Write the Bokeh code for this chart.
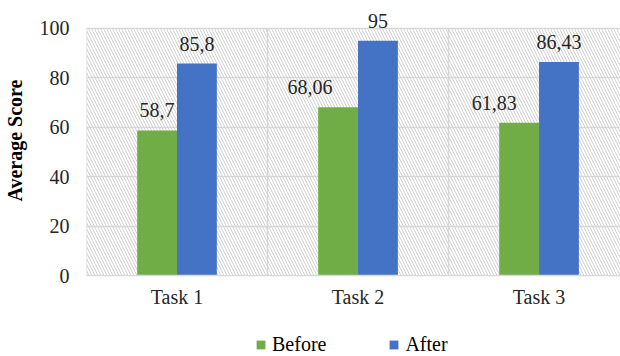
from bokeh.plotting import figure
from bokeh.layouts import column
from bokeh.models import (Range1d, FixedTicker, BoxAnnotation, ColumnDataSource,
                          LabelSet, Legend, LegendItem)
from bokeh.embed import file_html
from bokeh.resources import INLINE

categories = ["Task 1", "Task 2", "Task 3"]
before = [58.7, 68.06, 61.83]
after = [85.8, 95, 86.43]
series_names = ["Before", "After"]
y_ticks = [0, 20, 40, 60, 80, 100]
y_max = 100
dividers = [0, 1, 2]

# style / layout settings
GREEN = "#70AD47"
BLUE = "#4472C4"
GRID = "#d9d9d9"
FONT = "Liberation Serif"
BAR_W = 0.22
before_label_dx = [0, -28, -25]

def fmt(v):
    return f"{v:g}".replace(".", ",")

centers = [i + 0.5 for i in range(len(categories))]

p = figure(width=620, height=310, output_backend="svg", toolbar_location=None,
           x_range=Range1d(0, 2.95), y_range=Range1d(0, 109.3),
           min_border_left=86, min_border_right=0, min_border_top=5,
           min_border_bottom=34)
p.outline_line_color = None
p.background_fill_color = "white"
p.border_fill_color = "white"

# hatched plot background (only up to the 100 line)
hatch = BoxAnnotation(top=y_max, fill_color=None, fill_alpha=0, line_color=None,
                      hatch_pattern="\\", hatch_color="#d2d2d2", hatch_scale=6,
                      hatch_weight=1, level="underlay")
p.add_layout(hatch)

# vertical divider lines between categories
p.segment(x0=dividers, y0=[0] * len(dividers), x1=dividers, y1=[y_max] * len(dividers),
          line_color=GRID, line_width=1.5, level="underlay")

src_b = ColumnDataSource(dict(x=[c - BAR_W / 2 for c in centers], top=before,
                              text=[fmt(v) for v in before], dx=before_label_dx))
src_a = ColumnDataSource(dict(x=[c + BAR_W / 2 for c in centers], top=after,
                              text=[fmt(v) for v in after]))

p.vbar(x="x", top="top", width=BAR_W, bottom=0, source=src_b,
       fill_color=GREEN, line_color=None)
p.vbar(x="x", top="top", width=BAR_W, bottom=0, source=src_a,
       fill_color=BLUE, line_color=None)

for src in (src_b, src_a):
    lbl = LabelSet(x="x", y="top", text="text", source=src, text_align="center",
                   text_baseline="alphabetic", y_offset=13,
                   text_font=FONT, text_font_size="20px", text_color="#262626")
    if src is src_b:
        lbl.x_offset = "dx"
    p.add_layout(lbl)

# grids
p.xgrid.grid_line_color = None
p.ygrid.ticker = FixedTicker(ticks=y_ticks)
p.ygrid.grid_line_color = GRID
p.ygrid.grid_line_width = 1.5

# x axis
p.xaxis.ticker = FixedTicker(ticks=centers)
p.xaxis.major_label_overrides = {c: name for c, name in zip(centers, categories)}
p.xaxis.axis_line_color = GRID
p.xaxis.axis_line_width = 1.5
p.xaxis.major_tick_line_color = None
p.xaxis.major_tick_out = 0
p.xaxis.minor_tick_line_color = None
p.xaxis.minor_tick_out = 0
p.xaxis.major_label_standoff = 10
p.xaxis.major_label_text_font = FONT
p.xaxis.major_label_text_font_size = "20px"
p.xaxis.major_label_text_color = "#262626"

# y axis
p.yaxis.ticker = FixedTicker(ticks=y_ticks)
p.yaxis.axis_line_color = None
p.yaxis.major_tick_line_color = None
p.yaxis.major_tick_out = 0
p.yaxis.minor_tick_line_color = None
p.yaxis.minor_tick_out = 0
p.yaxis.major_label_standoff = 17
p.yaxis.major_label_text_font = FONT
p.yaxis.major_label_text_font_size = "20px"
p.yaxis.major_label_text_color = "#262626"
p.yaxis.axis_label = "Average Score"
p.yaxis.axis_label_text_font = FONT
p.yaxis.axis_label_text_font_style = "bold"
p.yaxis.axis_label_text_font_size = "20px"
p.yaxis.axis_label_text_color = "#000000"
p.yaxis.axis_label_standoff = 11

# legend strip below the chart (its bars are hidden; only the legend swatches show)
pl = figure(width=620, height=46, output_backend="svg", toolbar_location=None,
            x_axis_type=None, y_axis_type=None, min_border=0,
            x_range=Range1d(0, 2.95), y_range=Range1d(1000, 2000))
pl.outline_line_color = None
pl.border_fill_color = "white"
pl.background_fill_color = "white"
lb = pl.vbar(x="x", top="top", bottom="top", width=BAR_W, source=src_b,
             fill_color=GREEN, line_color=None, visible=False)
la = pl.vbar(x="x", top="top", bottom="top", width=BAR_W, source=src_a,
             fill_color=BLUE, line_color=None, visible=False)
legend = Legend(items=[LegendItem(label=series_names[0], renderers=[lb]),
                       LegendItem(label=series_names[1], renderers=[la])],
                orientation="horizontal", location=(169, 0),
                glyph_width=11, glyph_height=11, label_standoff=6, spacing=62,
                padding=0, margin=0, label_height=20,
                label_text_font=FONT, label_text_font_size="20px",
                label_text_color="#000000",
                inactive_fill_alpha=0,
                background_fill_alpha=0, border_line_color=None)
pl.add_layout(legend, "center")

layout = column(p, pl, spacing=0)
open("out.html", "w").write(file_html(layout, INLINE))
